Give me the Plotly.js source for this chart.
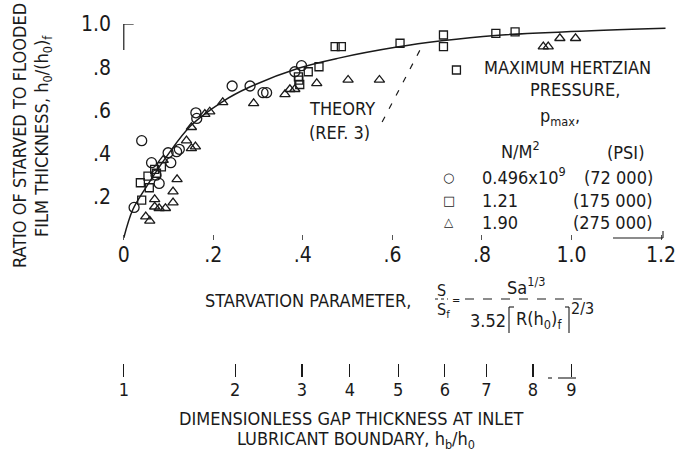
<!DOCTYPE html>
<html>
<head>
<meta charset="utf-8">
<script src="https://cdn.plot.ly/plotly-3.0.1.min.js"></script>
<style>html,body{margin:0;padding:0;background:#fff;}#chart{width:678px;height:460px;}</style>
</head>
<body>
<div id="chart"></div>
<script>
// ---- data ----
// p_max = 0.496x10^9 N/m^2 (72 000 psi)
const circleX = [0.023, 0.040, 0.062, 0.072, 0.079, 0.099, 0.105, 0.118, 0.124, 0.161, 0.163, 0.242, 0.282, 0.311, 0.319, 0.382, 0.397];
const circleY = [0.151, 0.460, 0.358, 0.300, 0.262, 0.404, 0.358, 0.409, 0.420, 0.589, 0.563, 0.713, 0.713, 0.682, 0.682, 0.779, 0.807];
// p_max = 1.21 (175 000 psi)
const squareX = [0.037, 0.040, 0.054, 0.057, 0.069, 0.073, 0.084, 0.390, 0.391, 0.393, 0.412, 0.436, 0.472, 0.486, 0.617, 0.714, 0.714, 0.743, 0.831, 0.874];
const squareY = [0.265, 0.185, 0.296, 0.242, 0.327, 0.309, 0.339, 0.755, 0.740, 0.720, 0.779, 0.802, 0.895, 0.895, 0.911, 0.949, 0.895, 0.787, 0.957, 0.964];
// p_max = 1.90 (275 000 psi)
const triX = [0.049, 0.058, 0.069, 0.069, 0.079, 0.093, 0.110, 0.110, 0.119, 0.140, 0.151, 0.160, 0.151, 0.088, 0.181, 0.192, 0.221, 0.290, 0.360, 0.371, 0.382, 0.431, 0.501, 0.571, 0.937, 0.948, 0.974, 1.009];
const triY = [0.108, 0.089, 0.188, 0.154, 0.147, 0.147, 0.224, 0.173, 0.281, 0.460, 0.424, 0.432, 0.522, 0.370, 0.583, 0.594, 0.637, 0.633, 0.674, 0.698, 0.698, 0.725, 0.741, 0.741, 0.895, 0.895, 0.934, 0.934];
// faired curve through the data
const curveX = [0, 0.02, 0.05, 0.095, 0.15, 0.22, 0.28, 0.39, 0.48, 0.61, 0.71, 0.83, 0.98, 1.21];
const curveY = [0.01, 0.14, 0.245, 0.385, 0.53, 0.64, 0.707, 0.795, 0.842, 0.893, 0.922, 0.947, 0.963, 0.98];
// theory (ref. 3), dashed
const theoryX = [0.577, 0.668];
const theoryY = [0.546, 0.905];
// axis ticks
const xTickVals = [0, 0.2, 0.4, 0.6, 0.8, 1.0, 1.2];
const xTickText = ['0', '.2', '.4', '.6', '.8', '1.0', '1.2'];
const yTickVals = [0.2, 0.4, 0.6, 0.8, 1.0];
const yTickText = ['.2', '.4', '.6', '.8', '1.0'];
// secondary scale: h_b/h_0 at S/S_f positions
const gapLabels = ['1', '2', '3', '4', '5', '6', '7', '8', '9'];
const gapPos = [0, 0.249, 0.398, 0.505, 0.613, 0.717, 0.810, 0.914, 1.0];

// ---- layout helpers ----
const W = 678, H = 460, ML = 122, MR = 8, MT = 24, MB = 60;
const PX = px => (px - ML) / (W - ML - MR);
const PY = py => (H - MB - py) / (H - MT - MB);
const FONT = "'Liberation Sans Narrow', 'DejaVu Sans Condensed', 'Roboto Condensed', 'Arial Narrow', sans-serif";
const INK = '#1a1a1a';

const mk = (sym, size) => ({symbol: sym, size: size, color: INK, line: {color: INK, width: 1.3}});

const traces = [
  {x: curveX, y: curveY, mode: 'lines', line: {color: INK, width: 1.5, shape: 'spline', smoothing: 1}, hoverinfo: 'skip'},
  {x: theoryX, y: theoryY, mode: 'lines', line: {color: INK, width: 1.2, dash: '6px,9px'}, hoverinfo: 'skip'},
  {x: circleX, y: circleY, mode: 'markers', marker: mk('circle-open', 10), cliponaxis: false},
  {x: squareX, y: squareY, mode: 'markers', marker: mk('square-open', 8), cliponaxis: false},
  {x: triX, y: triY, mode: 'markers', marker: mk('triangle-up-open', 9), cliponaxis: false},
  {x: [0], y: [0], xaxis: 'x2', yaxis: 'y', mode: 'markers', marker: {opacity: 0}, hoverinfo: 'skip'}
];

function ann(text, px, py, opts) {
  return Object.assign({text: text, x: PX(px), y: PY(py), xref: 'paper', yref: 'paper',
    showarrow: false, xanchor: 'center', yanchor: 'middle', font: {family: FONT, size: 18, color: INK}}, opts || {});
}
function seg(x0, y0, x1, y1, dash) {
  return {type: 'line', xref: 'paper', yref: 'paper', x0: PX(x0), y0: PY(y0), x1: PX(x1), y1: PY(y1),
    line: {color: INK, width: 1.1, dash: dash || 'solid'}};
}

const annotations = [
  ann('THEORY', 307, 108, {xanchor: 'left'}),
  ann('(REF. 3)', 307, 132, {xanchor: 'left'}),
  ann('MAXIMUM HERTZIAN', 567, 67),
  ann('PRESSURE,', 575, 90),
  ann('p<sub>max</sub>,', 560, 117),
  ann('N/M<sup>2</sup>', 520, 150),
  ann('(PSI)', 625, 152),
  ann('○', 448, 178, {font: {family: 'DejaVu Sans', size: 13, color: INK}}),
  ann('□', 449, 200, {font: {family: 'DejaVu Sans', size: 13, color: INK}}),
  ann('△', 449, 222, {font: {family: 'DejaVu Sans', size: 12, color: INK}}),
  ann('0.496x10<sup>9</sup>', 480, 176, {xanchor: 'left'}),
  ann('1.21', 480, 200, {xanchor: 'left'}),
  ann('1.90', 480, 222, {xanchor: 'left'}),
  ann('(72 000)', 655, 178, {xanchor: 'right'}),
  ann('(175 000)', 655, 200, {xanchor: 'right'}),
  ann('(275 000)', 655, 222, {xanchor: 'right'}),
  // y title
  ann('RATIO OF STARVED TO FLOODED', 19, 136, {textangle: -90, font: {family: FONT, size: 18, color: INK}}),
  ann('FILM THICKNESS, h<sub>0</sub>/(h<sub>0</sub>)<sub>f</sub>', 43, 136, {textangle: -90, font: {family: FONT, size: 18, color: INK}}),
  // x title with formula
  ann('STARVATION PARAMETER,', 203, 300, {xanchor: 'left'}),
  ann('S', 441, 290, {font: {family: FONT, size: 16, color: INK}}),
  ann('S<sub>f</sub>', 443, 310, {font: {family: FONT, size: 16, color: INK}}),
  ann('=', 456, 300, {font: {family: FONT, size: 11, color: INK}}),
  ann('Sa<sup>1/3</sup>', 526, 286),
  ann('3.52', 488, 320),
  ann('R(h<sub>0</sub>)<sub>f</sub>', 539, 320),
  ann('2/3', 582, 308, {font: {family: FONT, size: 16, color: INK}}),
  // secondary title
  ann('DIMENSIONLESS GAP THICKNESS AT INLET', 351, 418),
  ann('LUBRICANT BOUNDARY, h<sub>b</sub>/h<sub>0</sub>', 356, 440)
];

const shapes = [
  // short y axis stub at top
  {type: 'line', xref: 'x', yref: 'y', x0: 0, y0: 1.0, x1: 0, y1: 0.88, line: {color: INK, width: 1.2}},
  {type: 'line', xref: 'x', yref: 'y', x0: 0, y0: 1.0, x1: 0.022, y1: 1.0, line: {color: INK, width: 1.2}},
  // fraction bars
  seg(435, 299, 448, 299, 'dot'),
  seg(465, 299, 591, 299, 'dash'),
  // brackets
  seg(509, 307, 509, 333), seg(509, 307, 514, 307),
  seg(569, 307, 569, 333), seg(565, 307, 569, 307),
  // underline under legend
  seg(613, 238, 663, 238), seg(663, 238, 663, 231),
  // broken underline near tick 9 of the gap scale
  seg(548, 378, 552, 378), seg(558, 378, 576, 378)
];

const layout = {
  width: W, height: H,
  margin: {l: ML, r: MR, t: MT, b: MB, pad: 0},
  paper_bgcolor: '#fff', plot_bgcolor: '#fff',
  showlegend: false,
  font: {family: FONT, color: INK},
  xaxis: {range: [-0.004, 1.22], domain: [0, 1], anchor: 'y', tickvals: xTickVals, ticktext: xTickText,
    ticks: 'inside', ticklen: 5, tickwidth: 1, tickcolor: '#555', showline: false, showgrid: false, zeroline: false,
    tickfont: {family: FONT, size: 21, color: INK}, fixedrange: true},
  yaxis: {range: [0, 1.0], domain: [0.4255, 1], tickvals: yTickVals, ticktext: yTickText,
    ticks: '', showline: false, showgrid: false, zeroline: false, ticklabelstandoff: 10,
    tickfont: {family: FONT, size: 21, color: INK}, fixedrange: true},
  xaxis2: {overlaying: 'x', anchor: 'free', position: 0.06, side: 'bottom', range: [-0.004, 1.22],
    tickvals: gapPos, ticktext: gapLabels, ticks: 'inside', ticklen: 13, tickwidth: 1.2, tickcolor: INK,
    showline: false, showgrid: false, zeroline: false, tickfont: {family: FONT, size: 18, color: INK}, fixedrange: true},
  annotations: annotations,
  shapes: shapes
};

Plotly.newPlot('chart', traces, layout, {displayModeBar: false, staticPlot: true});
</script>
</body>
</html>
